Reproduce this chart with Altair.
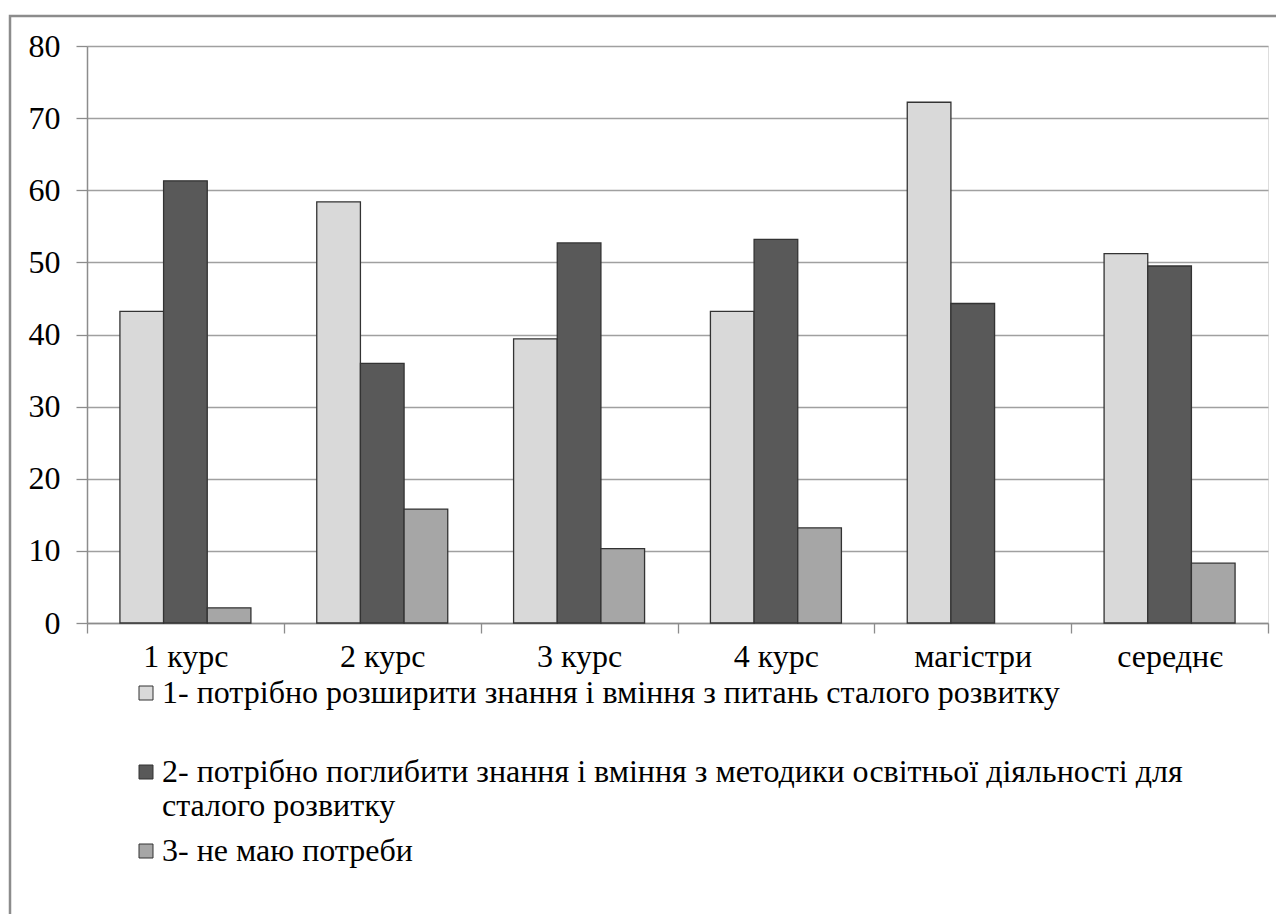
import altair as alt
import pandas as pd

categories = ["1 курс", "2 курс", "3 курс", "4 курс", "магістри", "середнє"]
series_names = [
    "1- потрібно розширити знання і вміння з питань сталого розвитку",
    "2- потрібно поглибити знання і вміння з методики освітньої діяльності для сталого розвитку",
    "3- не маю потреби",
]
s1 = [43.2, 58.4, 39.4, 43.2, 72.2, 51.2]
s2 = [61.3, 36.0, 52.7, 53.2, 44.3, 49.5]
s3 = [2.1, 15.8, 10.3, 13.2, 0.0, 8.3]
colors = ["#d9d9d9", "#595959", "#a6a6a6"]
y_ticks = [0, 10, 20, 30, 40, 50, 60, 70, 80]

rows = []
for name, vals in zip(series_names, [s1, s2, s3]):
    for c, v in zip(categories, vals):
        rows.append({"cat": c, "series": name, "value": v})
df = pd.DataFrame(rows)

FONT = "Liberation Serif"
FS = 32
W, H = 1181, 577

l2a = "2- потрібно поглибити знання і вміння з методики освітньої діяльності для"
l2b = "сталого розвитку"
label_expr = (
    f"datum.label == '{series_names[1]}' ? ['{l2a}', '{l2b}'] : "
    f"(datum.label == '{series_names[0]}' ? [datum.label, ''] : datum.label)"
)

bars = alt.Chart(df).mark_bar(stroke="#333333", strokeWidth=1.3).encode(
    x=alt.X(
        "cat:N",
        sort=categories,
        scale=alt.Scale(paddingInner=0, paddingOuter=0),
        axis=alt.Axis(
            title=None,
            labelAngle=0,
            labelFont=FONT,
            labelFontSize=FS,
            labelColor="#000000",
            labelPadding=8,
            tickBand="extent",
            tickSize=10,
            tickColor="#8c8c8c",
            tickWidth=1.3,
            domainColor="#8c8c8c",
            domainWidth=1.5,
            grid=False,
        ),
    ),
    xOffset=alt.XOffset(
        "series:N",
        sort=series_names,
        scale=alt.Scale(paddingInner=0, paddingOuter=0.754),
    ),
    y=alt.Y(
        "value:Q",
        scale=alt.Scale(domain=[0, 80], nice=False),
        axis=alt.Axis(
            title=None,
            values=y_ticks,
            labelFont=FONT,
            labelFontSize=FS,
            labelColor="#000000",
            labelPadding=16,
            tickSize=11,
            tickColor="#8c8c8c",
            tickWidth=1.3,
            domainColor="#8c8c8c",
            domainWidth=1.5,
            gridColor="#a0a0a0",
            gridWidth=1.3,
        ),
    ),
    color=alt.Color(
        "series:N",
        sort=series_names,
        scale=alt.Scale(domain=series_names, range=colors),
        legend=alt.Legend(
            title=None,
            orient="none",
            legendX=39,
            legendY=631,
            direction="vertical",
            labelExpr=label_expr,
            labelFont=FONT,
            labelFontSize=FS,
            labelColor="#000000",
            labelLimit=2000,
            labelOffset=0,
            symbolOffset=4,
            symbolType="square",
            symbolSize=196,
            symbolStrokeColor="#333333",
            symbolStrokeWidth=1,
            rowPadding=13,
            padding=0,
        ),
    ),
    strokeOpacity=alt.condition("datum.value == 0", alt.value(0), alt.value(1)),
)

frame = alt.Chart(pd.DataFrame({"f": [0]})).mark_rect(
    fill=None, stroke="#8c8c8c", strokeWidth=2.5
).encode(
    x=alt.value(-77),
    x2=alt.value(W + 40),
    y=alt.value(-30),
    y2=alt.value(H + 400),
)

chart = alt.layer(bars, frame).properties(
    width=W,
    height=H,
    autosize=alt.AutoSizeParams(type="none"),
    padding={"left": 79, "top": 38, "right": 8, "bottom": 291},
).configure_view(stroke=None).configure(background="#ffffff")

chart.save("out.html", embed_options={"renderer": "svg", "actions": False})
